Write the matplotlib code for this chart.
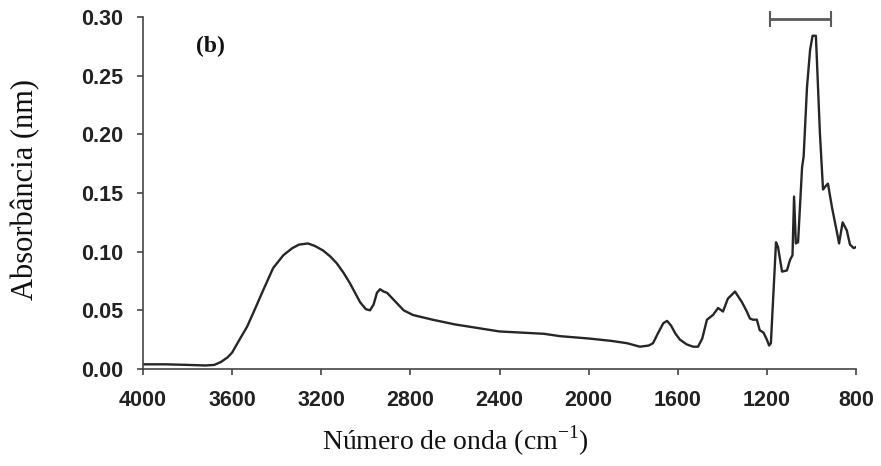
import matplotlib
matplotlib.use('Agg')
import matplotlib.pyplot as plt

wavenumber = [4000, 3900, 3800, 3720, 3680, 3650, 3620, 3600, 3570, 3533,
              3500, 3461, 3416, 3370, 3330, 3300, 3260, 3230, 3192, 3160,
              3130, 3100, 3071, 3040, 3026, 3000, 2981, 2965, 2950, 2936,
              2920, 2905, 2885, 2860, 2830, 2788, 2700, 2600, 2500, 2400,
              2300, 2200, 2129, 2000, 1900, 1828, 1770, 1730, 1711, 1690,
              1665, 1648, 1630, 1610, 1590, 1560, 1531, 1509, 1490, 1469,
              1442, 1419, 1397, 1375, 1343, 1312, 1290, 1276, 1262, 1245,
              1232, 1215, 1200, 1190, 1182, 1159, 1150, 1132, 1110, 1096,
              1085, 1078, 1070, 1060, 1042, 1035, 1020, 1006, 995, 980,
              962, 948, 940, 926, 908, 885, 876, 860, 841, 827, 810, 800]
absorbance = [0.004, 0.004, 0.0035, 0.003, 0.0035, 0.006, 0.010, 0.014, 0.024, 0.036,
              0.050, 0.067, 0.086, 0.097, 0.103, 0.106, 0.107, 0.105, 0.101, 0.096,
              0.090, 0.082, 0.073, 0.062, 0.057, 0.051, 0.050, 0.055, 0.065, 0.068,
              0.066, 0.065, 0.061, 0.056, 0.050, 0.046, 0.042, 0.038, 0.035, 0.032,
              0.031, 0.030, 0.028, 0.026, 0.024, 0.022, 0.019, 0.020, 0.022, 0.030,
              0.039, 0.041, 0.037, 0.030, 0.025, 0.021, 0.019, 0.019, 0.026, 0.042,
              0.046, 0.052, 0.049, 0.060, 0.066, 0.057, 0.049, 0.043, 0.042, 0.042,
              0.033, 0.031, 0.025, 0.020, 0.022, 0.108, 0.104, 0.083, 0.084, 0.093,
              0.097, 0.147, 0.107, 0.108, 0.172, 0.181, 0.240, 0.272, 0.284, 0.284,
              0.201, 0.153, 0.155, 0.158, 0.138, 0.116, 0.107, 0.125, 0.118, 0.106,
              0.103, 0.104]

x_ticks = [4000, 3600, 3200, 2800, 2400, 2000, 1600, 1200, 800]
y_ticks = [0.00, 0.05, 0.10, 0.15, 0.20, 0.25, 0.30]

# faixa marcada no topo (cm-1)
band_start, band_end, band_y = 1186, 912, 0.298

plt.rcParams['mathtext.fontset'] = 'custom'
plt.rcParams['mathtext.rm'] = 'Liberation Serif'

fig = plt.figure(figsize=(8.81, 4.66), dpi=100)
ax = fig.add_axes([143/881, 1 - 369/466, 713/881, 352/466])

ax.plot(wavenumber, absorbance, color='#262626', lw=1.7)

ax.errorbar((band_start + band_end) / 2, band_y, xerr=(band_start - band_end) / 2,
            fmt='none', ecolor='#5a5a5a', elinewidth=2, capsize=6, capthick=1.5,
            clip_on=False)

ax.set_xlim(4000, 800)
ax.set_ylim(0, 0.30)
ax.set_xticks(x_ticks)
ax.set_yticks(y_ticks)
ax.set_yticklabels([f'{v:.2f}' for v in y_ticks])

for s in ['top', 'right']:
    ax.spines[s].set_visible(False)
for s in ['left', 'bottom']:
    ax.spines[s].set_color('#444444')
    ax.spines[s].set_linewidth(1.2)

ax.tick_params(direction='out', length=4, width=1.2, color='#444444', pad=11)
ax.tick_params(axis='y', pad=10)
for lab in ax.get_xticklabels() + ax.get_yticklabels():
    lab.set_fontfamily('Liberation Sans')
    lab.set_fontweight('bold')
    lab.set_fontsize(15.5)
    lab.set_color('#222222')

ax.text(0.095, 0.915, '(b)', transform=ax.transAxes, family='Liberation Serif',
        fontweight='bold', fontsize=17, ha='center', va='center', color='#111111')

fig.text(26/881, 1 - 190/466, 'Absorbância (nm)', rotation=90, ha='center', va='center',
         family='Liberation Serif', fontsize=22, color='#111111')
fig.text(455/881, 1 - 441/466, 'Número de onda (cm$^{\\mathrm{-1}}$)', ha='center', va='center',
         family='Liberation Serif', fontsize=20, color='#111111')

plt.savefig('out.png', dpi=100)
plt.close()
